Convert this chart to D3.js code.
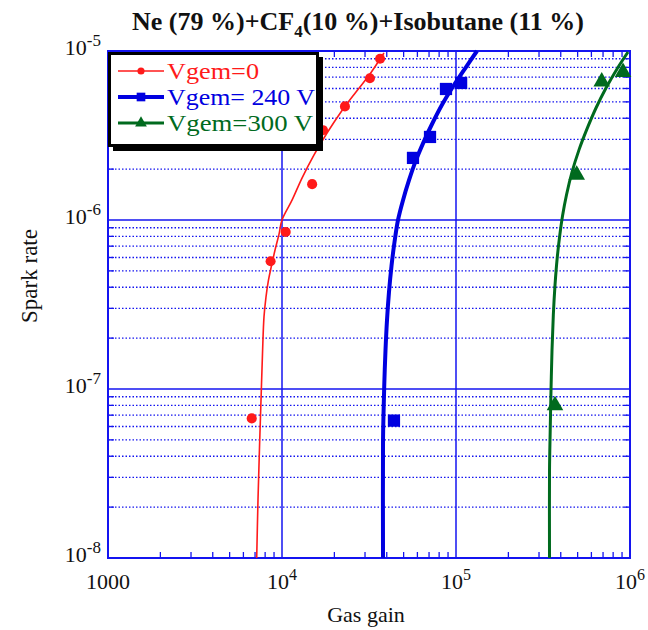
<!DOCTYPE html>
<html><head><meta charset="utf-8">
<script src="https://cdn.jsdelivr.net/npm/d3@7"></script>
<style>
html,body{margin:0;padding:0;background:#fff;}
svg{display:block;font-family:"Liberation Serif","Times New Roman",serif;}
</style></head>
<body>
<svg id="chart" width="648" height="630"></svg>
<script>
// ---------- data ----------
const seriesNames = ["Vgem=0", "Vgem= 240 V", "Vgem=300 V"];
const seriesColors = ["#ff1a1a", "#0000e0", "#006a1e"];

// measured points [gain, spark rate]
const redPoints = [[6700,6.7e-8],[8600,5.7e-7],[10500,8.5e-7],[14900,1.63e-6],[17200,3.4e-6],[23000,4.7e-6],[32000,6.9e-6],[36600,9.0e-6]];
const bluePoints = [[44000,6.5e-8],[56600,2.33e-6],[70900,3.1e-6],[87600,5.96e-6],[107000,6.47e-6]];
const greenPoints = [[370500,8.0e-8],[494000,1.85e-6],[688000,6.58e-6],[912000,7.5e-6]];

// fitted curves [gain, spark rate]
const redFit = [[7155,1e-8],[7278,2.2e-8],[7426,4.54e-8],[7575,8.6e-8],[7727,1.63e-7],[7880,2.67e-7],[8090,3.5e-7],[8360,4.41e-7],[8700,5.35e-7],[9120,6.64e-7],[9615,8.25e-7],[10000,1e-6],[11420,1.31e-6],[13030,1.77e-6],[15280,2.43e-6],[18140,3.27e-6],[21830,4.36e-6],[26620,5.72e-6],[32040,7.31e-6],[38550,9.73e-6]];
const blueFit = [[38070,1e-8],[38070,4.99e-8],[38370,7.51e-8],[38780,1.13e-7],[39340,1.7e-7],[40130,2.56e-7],[41200,3.75e-7],[42590,5.35e-7],[44320,7.41e-7],[46420,1e-6],[49600,1.31e-6],[53700,1.72e-6],[58900,2.26e-6],[65500,2.93e-6],[73800,3.8e-6],[84200,4.92e-6],[97400,6.29e-6],[114200,8.04e-6],[132000,1e-5]];
const greenFit = [[344700,1e-8],[344700,3.32e-8],[347900,5.72e-8],[351600,9.86e-8],[356300,1.7e-7],[362500,2.74e-7],[370700,4.12e-7],[381600,5.96e-7],[395000,8.15e-7],[409400,1.056e-6],[431700,1.41e-6],[464200,1.92e-6],[509200,2.6e-6],[566100,3.46e-6],[637700,4.6e-6],[727900,6.04e-6],[842000,7.83e-6],[974000,9.86e-6]];

const xMajor = [1000, 1e4, 1e5, 1e6];
const xTickLabels = [["1000",""],["10","4"],["10","5"],["10","6"]];
const yMajor = [1e-5, 1e-6, 1e-7, 1e-8];
const yTickLabels = [["10","-5"],["10","-6"],["10","-7"],["10","-8"]];

// ---------- layout ----------
const svg = d3.select("#chart");
const L = 108, R = 630, T = 51, B = 558;
const x = d3.scaleLog().domain([1000, 1e6]).range([L, R]);
const y = d3.scaleLog().domain([1e-8, 1e-5]).range([B, T]);
const gridBlue = "#1414f0";

// minor values
const xMinor = [], yMinor = [];
for (let e = 3; e < 6; e++) for (let m = 2; m <= 9; m++) xMinor.push(m * Math.pow(10, e));
for (let e = -8; e < -5; e++) for (let m = 2; m <= 9; m++) yMinor.push(m * Math.pow(10, e));

const g = svg.append("g");
// minor dotted horizontal grid
g.selectAll(".ymin").data(yMinor).join("line")
  .attr("x1", L).attr("x2", R).attr("y1", d => y(d)).attr("y2", d => y(d))
  .attr("stroke", gridBlue).attr("stroke-width", 1.3).attr("stroke-dasharray", "1.5,2");
// major grid
g.selectAll(".ymaj").data(yMajor.slice(1, 3)).join("line")
  .attr("x1", L).attr("x2", R).attr("y1", d => y(d)).attr("y2", d => y(d))
  .attr("stroke", gridBlue).attr("stroke-width", 1.5);
g.selectAll(".xmaj").data(xMajor.slice(1, 3)).join("line")
  .attr("y1", T).attr("y2", B).attr("x1", d => x(d)).attr("x2", d => x(d))
  .attr("stroke", gridBlue).attr("stroke-width", 1.5);

// minor ticks (inward) on all four sides
const tl = 6;
g.selectAll(".xtb").data(xMinor).join("line")
  .attr("x1", d => x(d)).attr("x2", d => x(d)).attr("y1", B).attr("y2", B - tl)
  .attr("stroke", gridBlue).attr("stroke-width", 1.3);
g.selectAll(".xtt").data(xMinor).join("line")
  .attr("x1", d => x(d)).attr("x2", d => x(d)).attr("y1", T).attr("y2", T + tl)
  .attr("stroke", gridBlue).attr("stroke-width", 1.3);
g.selectAll(".ytl").data(yMinor).join("line")
  .attr("y1", d => y(d)).attr("y2", d => y(d)).attr("x1", L).attr("x2", L + tl)
  .attr("stroke", gridBlue).attr("stroke-width", 1.3);
g.selectAll(".ytr").data(yMinor).join("line")
  .attr("y1", d => y(d)).attr("y2", d => y(d)).attr("x1", R).attr("x2", R - tl)
  .attr("stroke", gridBlue).attr("stroke-width", 1.3);

// frame
g.append("rect").attr("x", L).attr("y", T).attr("width", R - L).attr("height", B - T)
  .attr("fill", "none").attr("stroke", gridBlue).attr("stroke-width", 2);

// tick labels
const xl = svg.append("g").attr("font-size", 22).attr("fill", "#111");
xMajor.forEach((v, i) => {
  const t = xl.append("text").attr("x", x(v)).attr("y", 589).attr("text-anchor", "middle");
  t.append("tspan").text(xTickLabels[i][0]);
  if (xTickLabels[i][1]) t.append("tspan").attr("dy", -9).attr("font-size", 16).text(xTickLabels[i][1]);
});
yMajor.forEach((v, i) => {
  const t = xl.append("text").attr("x", 101).attr("y", y(v) + 4).attr("text-anchor", "end");
  t.append("tspan").text(yTickLabels[i][0]);
  t.append("tspan").attr("dy", -9).attr("font-size", 17).text(yTickLabels[i][1]);
});

// axis titles
svg.append("text").attr("x", 366).attr("y", 622).attr("text-anchor", "middle")
  .attr("font-size", 22).attr("fill", "#111").text("Gas gain");
svg.append("text").attr("transform", "translate(37,276) rotate(-90)").attr("text-anchor", "middle")
  .attr("font-size", 23).attr("fill", "#111").text("Spark rate");

// title
const title = svg.append("text").attr("x", 358).attr("y", 30).attr("text-anchor", "middle")
  .attr("font-size", 26).attr("font-weight", "bold").attr("fill", "#111");
title.append("tspan").text("Ne (79 %)+CF");
title.append("tspan").attr("dy", 7).attr("font-size", 17).text("4");
title.append("tspan").attr("dy", -7).text("(10 %)+Isobutane (11 %)");

// curves
const line = d3.line().x(d => x(d[0])).y(d => y(d[1])).curve(d3.curveCatmullRom.alpha(0.5));
const fits = [redFit, blueFit, greenFit];
const widths = [1.6, 4, 3];
const plot = svg.append("g");
fits.forEach((f, i) => {
  plot.append("path").attr("d", line(f)).attr("fill", "none")
    .attr("stroke", seriesColors[i]).attr("stroke-width", widths[i]);
});

// markers
const sym = [d3.symbolCircle, d3.symbolSquare, d3.symbolTriangle];
const symSize = [80, 150, 120];
const pts = [redPoints, bluePoints, greenPoints];
pts.forEach((p, i) => {
  plot.selectAll(null).data(p).join("path")
    .attr("d", d3.symbol().type(sym[i]).size(symSize[i]))
    .attr("transform", d => `translate(${x(d[0])},${y(d[1])})`)
    .attr("fill", seriesColors[i]);
});

// legend
const lg = svg.append("g");
lg.append("rect").attr("x", 113).attr("y", 57).attr("width", 210).attr("height", 94).attr("fill", "#000");
lg.append("rect").attr("x", 109.5).attr("y", 53.5).attr("width", 208).attr("height", 92)
  .attr("fill", "#fff").attr("stroke", "#000").attr("stroke-width", 3);
const rowY = [71, 97, 123];
seriesNames.forEach((n, i) => {
  lg.append("line").attr("x1", 118).attr("x2", 164).attr("y1", rowY[i]).attr("y2", rowY[i])
    .attr("stroke", seriesColors[i]).attr("stroke-width", widths[i]);
  lg.append("path").attr("d", d3.symbol().type(sym[i]).size(symSize[i] * 0.5))
    .attr("transform", `translate(141,${rowY[i]})`).attr("fill", seriesColors[i]);
  lg.append("text").attr("x", 167).attr("y", rowY[i] + 8).attr("font-size", 23.5)
    .attr("textLength", i === 0 ? 92 : (i === 1 ? 148 : 146)).attr("lengthAdjust", "spacingAndGlyphs")
    .attr("fill", seriesColors[i]).text(n);
});
</script>
</body></html>
